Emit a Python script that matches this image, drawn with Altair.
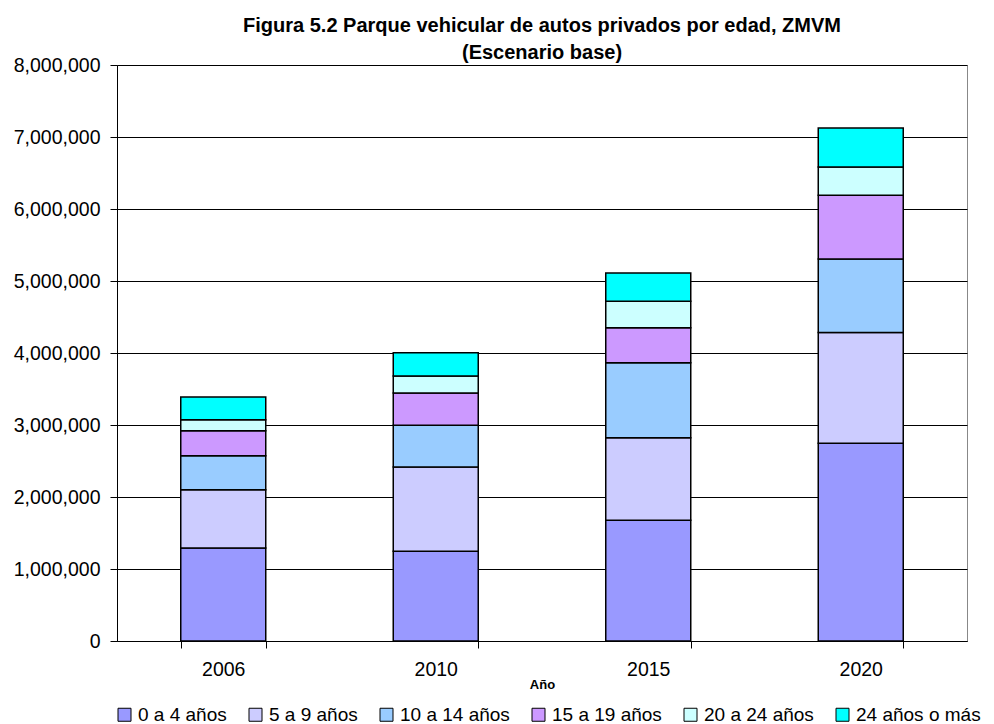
import altair as alt
import pandas as pd

years = ["2006", "2010", "2015", "2020"]
groups = ["0 a 4 años", "5 a 9 años", "10 a 14 años", "15 a 19 años", "20 a 24 años", "24 años o más"]
colors = ["#9999FF", "#CCCCFF", "#99CCFF", "#CC99FF", "#CCFFFF", "#00FFFF"]

v_0_4 = [1293000, 1245000, 1676000, 2747000]
v_5_9 = [808000, 1172000, 1148000, 1539000]
v_10_14 = [473000, 578000, 1042000, 1018000]
v_15_19 = [346000, 449000, 486000, 887000]
v_20_24 = [154000, 237000, 366000, 394000]
v_24_mas = [314000, 324000, 393000, 541000]

series = [v_0_4, v_5_9, v_10_14, v_15_19, v_20_24, v_24_mas]
rows = []
for gi, (g, vals) in enumerate(zip(groups, series)):
    for y, v in zip(years, vals):
        rows.append({"Año": y, "Edad": g, "orden": gi, "valor": v})
df = pd.DataFrame(rows)

FONT = "Liberation Sans"

chart = alt.Chart(df).mark_bar(stroke="black", strokeWidth=1.5).encode(
    x=alt.X("Año:N", sort=years,
            scale=alt.Scale(paddingInner=0.6, paddingOuter=0.3),
            axis=alt.Axis(title="Año", labelAngle=0, labelFontSize=19.5, labelFont=FONT,
                          labelColor="black", labelPadding=12, tickBand="extent",
                          tickSize=7, tickColor="black", domainColor="black",
                          titleFont=FONT, titleFontSize=13, titleFontWeight="bold",
                          titleColor="black", titlePadding=0)),
    y=alt.Y("valor:Q", stack="zero",
            scale=alt.Scale(domain=[0, 8000000]),
            axis=alt.Axis(title=None, values=list(range(0, 8000001, 1000000)),
                          format=",d", labelFontSize=19.5, labelFont=FONT, labelColor="black",
                          labelPadding=10, tickSize=7, tickColor="black", domainColor="black",
                          gridColor="black", gridOpacity=1, gridWidth=1)),
    color=alt.Color("Edad:N", sort=groups,
                    scale=alt.Scale(domain=groups, range=colors),
                    legend=alt.Legend(title=None, orient="none", direction="horizontal",
                                      legendX=-2, legendY=640, columns=6,
                                      symbolType="square", symbolSize=169,
                                      symbolStrokeColor="black", symbolStrokeWidth=1,
                                      symbolOpacity=1,
                                      labelFont=FONT, labelFontSize=19, labelColor="black",
                                      labelOffset=4, columnPadding=19)),
    order=alt.Order("orden:Q", sort="ascending"),
).properties(
    width=850,
    height=576,
    title=alt.Title(["Figura 5.2 Parque vehicular de autos privados por edad, ZMVM", "(Escenario base)"],
                    font=FONT, fontSize=20, fontWeight="bold", color="black",
                    anchor="middle", frame="group", offset=0, dy=8, lineHeight=27),
    autosize=alt.AutoSizeParams(type="none"),
    padding={"left": 109, "top": 57, "right": 18, "bottom": 83},
).configure_view(stroke="#888888", strokeWidth=1)

chart.save("out.html", embed_options={"renderer": "svg", "actions": False})
